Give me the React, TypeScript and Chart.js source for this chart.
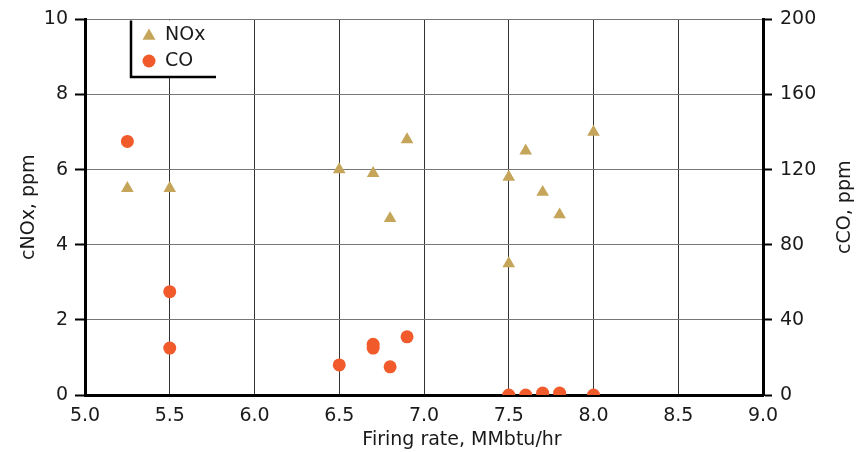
import React, { useEffect, useRef } from "react";
import { Chart, registerables } from "chart.js";

Chart.register(...registerables);

const noxX = [5.25, 5.5, 6.5, 6.7, 6.8, 6.9, 7.5, 7.5, 7.6, 7.7, 7.8, 8.0];
const noxY = [5.5, 5.5, 6.0, 5.9, 4.7, 6.8, 5.8, 3.5, 6.5, 5.4, 4.8, 7.0];
const coX = [5.25, 5.5, 5.5, 6.5, 6.7, 6.7, 6.8, 6.9, 7.5, 7.6, 7.7, 7.8, 8.0];
const coY = [135, 55, 25, 16, 27, 25, 15, 31, 0, 0, 1, 1, 0];

const xTitle = "Firing rate, MMbtu/hr";
const yTitle = "cNOx, ppm";
const y1Title = "cCO, ppm";

const NOX_COLOR = "#C4A55A";
const CO_COLOR = "#F15A2B";
const FONT = "'DejaVu Sans', Verdana, sans-serif";
const TEXT = "#1a1a1a";
const FS = 19;

const decorPlugin = {
  id: "decor",
  afterDraw(chart: any) {
    const ctx = chart.ctx;
    const area = chart.chartArea;
    ctx.save();
    // legend box
    const top = area.top + 1;
    const left = 131;
    const right = 216;
    const bottom = 77;
    ctx.fillStyle = "#ffffff";
    ctx.fillRect(left, top, right - left, bottom - top);
    ctx.strokeStyle = "#000";
    ctx.lineWidth = 2.5;
    ctx.beginPath();
    ctx.moveTo(left, top);
    ctx.lineTo(left, bottom);
    ctx.lineTo(right, bottom);
    ctx.stroke();
    ctx.fillStyle = NOX_COLOR;
    const tx = 149, ty = 36, r = 7.5;
    ctx.beginPath();
    ctx.moveTo(tx, ty - r);
    ctx.lineTo(tx + r * 0.866, ty + r * 0.5);
    ctx.lineTo(tx - r * 0.866, ty + r * 0.5);
    ctx.closePath();
    ctx.fill();
    ctx.fillStyle = CO_COLOR;
    ctx.beginPath();
    ctx.arc(149, 61, 6.5, 0, Math.PI * 2);
    ctx.fill();
    ctx.fillStyle = TEXT;
    ctx.font = `${FS}px ${FONT}`;
    ctx.textBaseline = "middle";
    ctx.textAlign = "left";
    ctx.fillText(chart.data.datasets[0].label, 165, 35);
    ctx.fillText(chart.data.datasets[1].label, 165, 61);

    // axis titles
    ctx.textAlign = "center";
    ctx.textBaseline = "alphabetic";
    ctx.fillText(xTitle, 462, 445);
    const cy = (area.top + area.bottom) / 2;
    ctx.save();
    ctx.translate(33.5, cy);
    ctx.rotate(-Math.PI / 2);
    ctx.fillText(yTitle, 0, 0);
    ctx.restore();
    ctx.save();
    ctx.translate(849.5, cy);
    ctx.rotate(-Math.PI / 2);
    ctx.fillText(y1Title, 0, 0);
    ctx.restore();
    ctx.restore();
  },
};

export default function App() {
  const ref = useRef<HTMLCanvasElement>(null);
  useEffect(() => {
    if (!ref.current) return;
    const chart = new Chart(ref.current, {
      type: "scatter",
      data: {
        datasets: [
          {
            label: "NOx",
            data: noxX.map((x, i) => ({ x, y: noxY[i] })),
            yAxisID: "y",
            pointStyle: "triangle",
            pointRadius: 7.3,
            backgroundColor: NOX_COLOR,
            borderColor: NOX_COLOR,
            borderWidth: 0,
          },
          {
            label: "CO",
            data: coX.map((x, i) => ({ x, y: coY[i] })),
            yAxisID: "y1",
            pointStyle: "circle",
            pointRadius: 6.5,
            backgroundColor: CO_COLOR,
            borderColor: CO_COLOR,
            borderWidth: 0,
          },
        ],
      },
      options: {
        responsive: false,
        animation: false,
        layout: { padding: { top: 17, left: 0, right: 0, bottom: 0 } },
        plugins: {
          legend: { display: false },
          tooltip: { enabled: false },
        },
        scales: {
          x: {
            type: "linear",
            min: 5,
            max: 9,
            afterFit: (s: any) => { s.height = 57; },
            ticks: {
              stepSize: 0.5,
              callback: (v: any) => Number(v).toFixed(1),
              color: TEXT,
              font: { family: FONT, size: FS },
              padding: 10,
              maxRotation: 0,
            },
            grid: { color: "#333", lineWidth: 1, drawTicks: false },
            border: { display: true, color: "#000", width: 3 },
          },
          y: {
            position: "left",
            min: 0,
            max: 10,
            afterFit: (s: any) => { s.width = 85; },
            ticks: {
              stepSize: 2,
              color: TEXT,
              font: { family: FONT, size: FS },
              padding: 7,
            },
            grid: { color: "#777", lineWidth: 1, tickLength: 10, tickColor: "#000", tickWidth: 2 },
            border: { display: true, color: "#000", width: 3 },
          },
          y1: {
            position: "right",
            min: 0,
            max: 200,
            afterFit: (s: any) => { s.width = 103; },
            ticks: {
              stepSize: 40,
              color: TEXT,
              font: { family: FONT, size: FS },
              padding: 8,
            },
            grid: { drawOnChartArea: false, tickLength: 9, tickColor: "#000", tickWidth: 2 },
            border: { display: true, color: "#000", width: 3 },
          },
        },
      },
      plugins: [decorPlugin],
    } as any);
    return () => chart.destroy();
  }, []);
  return (
    <div style={{ position: "absolute", left: 0, top: 0, width: 866, height: 452, background: "#fff" }}>
      <canvas ref={ref} width={866} height={452} />
    </div>
  );
}
